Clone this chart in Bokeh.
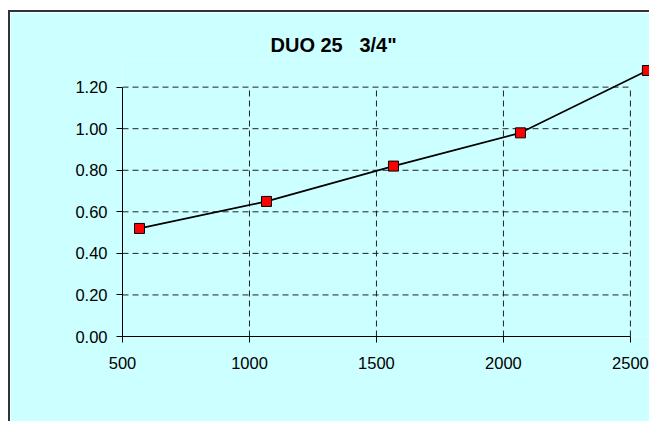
from bokeh.plotting import figure
from bokeh.models import Range1d, FixedTicker, PrintfTickFormatter, Title
from bokeh.embed import file_html
from bokeh.resources import INLINE

# data
flow = [567, 1067, 1567, 2067, 2567]
loss = [0.52, 0.65, 0.82, 0.98, 1.28]
x_ticks = [500, 1000, 1500, 2000, 2500]
y_ticks = [0.0, 0.2, 0.4, 0.6, 0.8, 1.0, 1.2]
title_text = 'DUO 25\u00a0\u00a0\u00a03/4"'

BG = "#CCFFFF"
FONT = "Liberation Sans"

p = figure(width=641, height=411, output_backend="svg", toolbar_location=None,
           x_range=Range1d(500, 2583), y_range=Range1d(0, 1.333),
           min_border_left=112, min_border_right=0, min_border_top=47,
           min_border_bottom=87, background_fill_color=BG,
           border_fill_color=BG, outline_line_color=None)
p.styles = {"border-left": "2px solid #333333", "border-top": "2px solid #333333",
            "margin-top": "10px", "margin-left": "8px"}

p.title = Title(text=title_text, align="left", offset=148,
                text_font=FONT, text_font_size="20px", text_font_style="bold",
                text_color="black", standoff=7)

p.xgrid.visible = False
p.ygrid.visible = False

# dashed gridlines bounded to the axis extents
xb = (x_ticks[0], x_ticks[-1])
yb = (y_ticks[0], y_ticks[-1])
vx = x_ticks[1:]
p.segment(x0=vx, y0=[yb[0]] * len(vx), x1=vx, y1=[yb[1]] * len(vx),
          line_color="#222222", line_width=1, line_dash="6 4")
hy = y_ticks[1:]
p.segment(x0=[xb[0]] * len(hy), y0=hy, x1=[xb[1]] * len(hy), y1=hy,
          line_color="#222222", line_width=1, line_dash="6 4")

for ax, ticks, bounds in ((p.xaxis[0], x_ticks, xb), (p.yaxis[0], y_ticks, yb)):
    ax.ticker = FixedTicker(ticks=ticks)
    ax.bounds = bounds
    ax.axis_line_color = "black"
    ax.axis_line_width = 1
    ax.major_tick_line_color = "black"
    ax.major_tick_out = 6
    ax.major_tick_in = 0
    ax.minor_tick_line_color = None
    ax.major_label_text_font = FONT
    ax.major_label_text_font_size = "16.5px"
    ax.major_label_text_color = "black"

p.xaxis[0].major_label_standoff = 14
p.yaxis[0].major_label_standoff = 9
p.yaxis[0].formatter = PrintfTickFormatter(format="%.2f")

p.line(flow, loss, line_color="black", line_width=1.7)
p.scatter(flow, loss, marker="square", size=10, fill_color="#FF0000",
          line_color="black", line_width=1)

open("out.html", "w").write(file_html(p, INLINE))
